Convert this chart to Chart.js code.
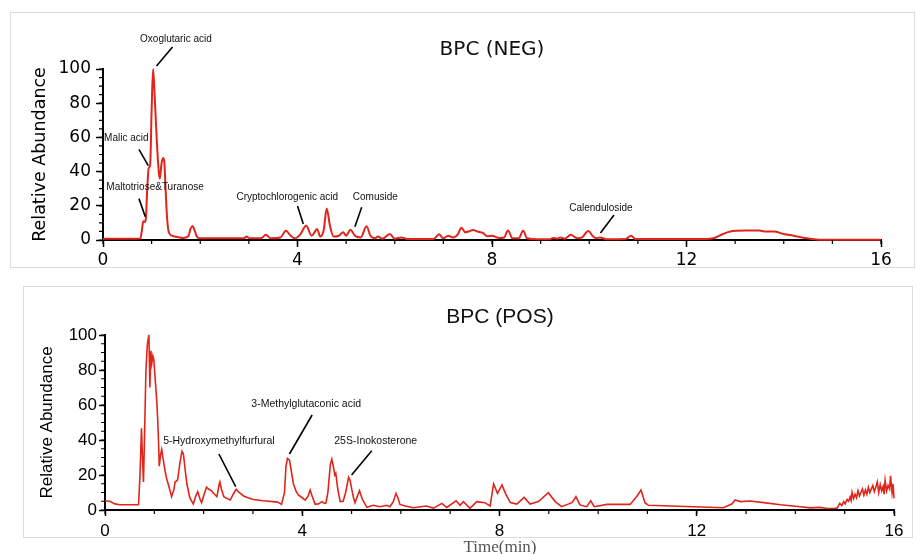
<!DOCTYPE html>
<html>
<head>
<meta charset="utf-8">
<script src="https://cdn.jsdelivr.net/npm/chart.js@4/dist/chart.umd.min.js"></script>
<style>
  body { margin: 0; background: #fff; width: 917px; height: 554px; position: relative; overflow: hidden; }
  .frame { position: absolute; border: 1px solid #dcdcdc; box-sizing: border-box; }
  canvas { position: absolute; }
  #timeLabel { position: absolute; left: 440px; top: 537px; width: 120px; line-height: 20px; text-align: center;
    font-family: 'Liberation Serif', 'DejaVu Serif', serif; font-size: 17px; color: #555; }
</style>
</head>
<body>
<div class="frame" style="left:10px;top:12px;width:905px;height:256px"></div>
<div class="frame" style="left:23px;top:286px;width:890px;height:252px"></div>
<canvas id="negCanvas" style="left:10px;top:12px"></canvas>
<canvas id="posCanvas" style="left:23px;top:286px"></canvas>
<div id="timeLabel">Time(min)</div>
<script>
// tick labels
const xTicks = [0, 4, 8, 12, 16];
const yTicks = [0, 20, 40, 60, 80, 100];

// BPC (NEG) - retention time (min) / relative abundance
const negTime = [0, 0.5, 0.77, 0.81, 0.83, 0.86, 0.88, 0.91, 0.94, 0.97, 1.0, 1.03, 1.06, 1.11, 1.15, 1.17, 1.2, 1.235, 1.26, 1.29,
  1.32, 1.36, 1.45, 1.55, 1.65, 1.75, 1.8, 1.84, 1.88, 1.93, 2.0, 2.5, 2.9, 2.95, 3.02, 3.25, 3.35, 3.45, 3.65, 3.76,
  3.86, 3.95, 4.05, 4.18, 4.29, 4.34, 4.4, 4.47, 4.54, 4.6, 4.67, 4.74, 4.85, 4.94, 5.0, 5.09, 5.18, 5.3, 5.42, 5.5,
  5.6, 5.65, 5.75, 5.9, 6.0, 6.14, 6.25, 6.8, 6.91, 7.0, 7.1, 7.2, 7.3, 7.37, 7.45, 7.52, 7.61, 7.7, 7.82, 7.9,
  8.0, 8.15, 8.25, 8.33, 8.42, 8.55, 8.64, 8.72, 8.9, 9.2, 9.25, 9.35, 9.4, 9.5, 9.62, 9.75, 9.85, 9.98, 10.08, 10.15,
  10.22, 10.35, 10.75, 10.86, 10.95, 12.4, 12.55, 12.75, 12.9, 13.2, 13.5, 13.6, 13.8, 14.0, 14.2, 14.47, 14.68, 15.0, 16.0];
const negAbundance = [0.8, 0.8, 0.9, 8, 11, 10.5, 12, 30, 42, 44, 76, 100, 86, 56, 39, 36, 44, 48, 46, 28,
  12, 4, 2.2, 1.6, 1.2, 2, 6.5, 8.2, 6, 2, 1, 1, 1, 2, 1, 1, 3, 1, 1.5, 5.4,
  2.5, 1, 3, 8.3, 2.5, 4, 6.5, 2, 6, 18.4, 8, 2, 2.5, 4.5, 2.5, 6, 2.5, 1.5, 8, 2.5,
  1, 2, 0.8, 3.5, 0.8, 1.5, 0.6, 0.6, 3.3, 1, 2.5, 1.5, 3.5, 7.2, 4.5, 5, 5.8, 5, 4, 2.2,
  2.5, 1.2, 1.5, 5.6, 1, 1, 5.4, 1, 0.5, 0.5, 1.2, 0.8, 1.5, 0.8, 3, 1, 1.5, 5.2, 2, 1,
  1.5, 0.5, 0.6, 2.5, 0.6, 0.6, 1, 3.5, 5, 5.5, 5.5, 5, 5, 3.5, 2.5, 1, 0.3, 0.1, 0.1];

// BPC (POS)
const posTime = [0, 0.1, 0.2, 0.3, 0.68, 0.71, 0.74, 0.76, 0.78, 0.8, 0.83, 0.86, 0.89, 0.91, 0.93, 0.95, 0.97, 0.99, 1.02, 1.05,
  1.07, 1.09, 1.1, 1.13, 1.15, 1.18, 1.22, 1.25, 1.3, 1.35, 1.4, 1.42, 1.47, 1.52, 1.56, 1.59, 1.63, 1.66, 1.72, 1.79,
  1.84, 1.88, 1.93, 1.96, 2.01, 2.06, 2.1, 2.16, 2.22, 2.27, 2.31, 2.33, 2.36, 2.41, 2.48, 2.54, 2.6, 2.66, 2.72, 2.81,
  2.9, 3.01, 3.2, 3.41, 3.5, 3.58, 3.64, 3.67, 3.7, 3.74, 3.78, 3.82, 3.87, 3.92, 4.0, 4.06, 4.12, 4.16, 4.2, 4.26,
  4.33, 4.4, 4.45, 4.48, 4.52, 4.57, 4.6, 4.63, 4.66, 4.68, 4.72, 4.77, 4.83, 4.88, 4.94, 4.97, 5.0, 5.04, 5.07, 5.12,
  5.16, 5.22, 5.31, 5.44, 5.58, 5.71, 5.78, 5.85, 5.9, 5.94, 5.98, 6.09, 6.25, 6.52, 6.66, 6.83, 6.93, 7.12, 7.2, 7.27,
  7.4, 7.54, 7.7, 7.81, 7.88, 7.96, 8.05, 8.12, 8.22, 8.35, 8.5, 8.62, 8.79, 8.99, 9.13, 9.26, 9.47, 9.55, 9.63, 9.77,
  9.85, 9.92, 10.18, 10.65, 10.79, 10.87, 10.95, 11.02, 11.93, 12.54, 12.71, 12.78, 12.88, 13.08, 13.36, 13.7, 14.1, 14.3, 14.5, 14.65,
  14.8, 14.85, 14.9, 14.94, 14.98, 15.01, 15.05, 15.08, 15.11, 15.13, 15.15, 15.18, 15.21, 15.24, 15.27, 15.3, 15.33, 15.36, 15.39, 15.42,
  15.45, 15.48, 15.51, 15.54, 15.57, 15.6, 15.63, 15.66, 15.69, 15.72, 15.75, 15.78, 15.8, 15.82, 15.85, 15.88, 15.91, 15.93, 15.96, 15.98, 16.0];
const posAbundance = [5.3, 5, 3.5, 3, 3, 20, 46.7, 30, 16, 40, 80, 95, 100, 70, 91, 84, 88, 86, 74, 62,
  51, 35, 25, 32, 34.5, 29, 22, 18, 13, 7.6, 12, 16, 17, 27, 33.5, 32, 22, 15, 7, 3.4,
  8, 10.5, 6, 4.2, 9, 13, 12, 11, 9, 7.6, 14, 16, 12, 7.6, 6.5, 5.7, 9, 11.8, 10, 8,
  7, 6, 5.3, 4.8, 4.5, 3.2, 10, 25, 29.5, 28.6, 22, 15, 11, 8.6, 7, 5.7, 8, 11.4, 8, 3.4,
  3.5, 4.8, 3.8, 4, 10, 26, 29, 25, 20, 21, 12, 4.8, 5, 10, 18.7, 17, 12.4, 7, 4.2, 8,
  11, 6, 1.5, 2.7, 1.9, 2.7, 1.9, 5, 9.5, 7, 3.2, 2.3, 1.3, 2.3, 1.1, 3.8, 1.5, 5.3, 2.7, 4.8,
  1, 4.8, 4.2, 2.3, 14.9, 9.5, 14.3, 9.5, 4.2, 3.4, 7.2, 3.4, 4.8, 9.9, 4.8, 1.9, 4.2, 7.6, 2.9, 1.9,
  5.3, 1.9, 3.2, 3.2, 8, 11.4, 4.2, 2.7, 1.9, 1.3, 3.4, 5.7, 4.8, 5.1, 4.2, 3, 1.9, 1.2, 1.5, 0.9,
  1, 1.2, 3.8, 2.5, 4.8, 3.5, 6, 5, 7.5, 5.5, 10, 6.5, 9, 7, 11, 8, 10, 12, 8.5, 11.5,
  9, 13, 10, 12, 14, 10.5, 13, 16, 10, 14.5, 11, 13.5, 9, 17, 11, 14, 12, 19.5, 10, 15, 6.7];

// peak labels: text, label position and leader line (data units)
const negNotes = [
  { text: 'Oxoglutaric acid', at: [1.5, 117.5], from: [1.43, 112.9], to: [1.1, 101.8] },
  { text: 'Malic acid', at: [0.48, 59.6], from: [0.74, 53], to: [0.93, 43.5] },
  { text: 'Maltotriose&Turanose', at: [1.07, 31], from: [0.74, 24.2], to: [0.87, 13.6] },
  { text: 'Cryptochlorogenic acid', at: [3.79, 25.1], from: [4.0, 19.9], to: [4.12, 9.4] },
  { text: 'Comuside', at: [5.6, 25.1], from: [5.32, 19.1], to: [5.18, 7.8] },
  { text: 'Calenduloside', at: [10.24, 18.7], from: [10.51, 14.6], to: [10.23, 4.1] }
];
const posNotes = [
  { text: '5-Hydroxymethylfurfural', at: [2.31, 39.4], from: [2.31, 32], to: [2.65, 13.3] },
  { text: '3-Methylglutaconic acid', at: [4.08, 60.6], from: [4.2, 54.3], to: [3.74, 32] },
  { text: '25S-Inokosterone', at: [5.49, 39.4], from: [5.41, 33.9], to: [5.0, 20] }
];

const notesPlugin = {
  id: 'panelNotes',
  afterDraw(chart, args, opts) {
    const ctx = chart.ctx;
    const xs = chart.scales.x, ys = chart.scales.y;
    const area = chart.chartArea;
    ctx.save();
    // minor ticks
    ctx.strokeStyle = '#000';
    ctx.lineWidth = 1.2;
    ctx.beginPath();
    for (let v = xs.min; v <= xs.max; v += 1) {
      const px = xs.getPixelForValue(v);
      ctx.moveTo(px, area.bottom);
      ctx.lineTo(px, area.bottom + opts.minorLen);
    }
    for (let v = ys.min; v <= ys.max; v += 5) {
      const py = ys.getPixelForValue(v);
      ctx.moveTo(area.left, py);
      ctx.lineTo(area.left - opts.minorLen, py);
    }
    ctx.stroke();
    // panel title
    ctx.fillStyle = '#111';
    ctx.font = opts.titleFont;
    ctx.textAlign = 'center';
    ctx.textBaseline = 'middle';
    ctx.fillText(opts.title, opts.titleX, opts.titleY);
    // peak labels
    ctx.font = opts.noteFont;
    ctx.lineWidth = 1.6;
    opts.notes.forEach(n => {
      ctx.fillText(n.text, xs.getPixelForValue(n.at[0]), ys.getPixelForValue(n.at[1]));
      ctx.beginPath();
      ctx.moveTo(xs.getPixelForValue(n.from[0]), ys.getPixelForValue(n.from[1]));
      ctx.lineTo(xs.getPixelForValue(n.to[0]), ys.getPixelForValue(n.to[1]));
      ctx.stroke();
    });
    ctx.restore();
  }
};

function buildChart(id, cfg) {
  const canvas = document.getElementById(id);
  canvas.width = cfg.width;
  canvas.height = cfg.height;
  const tickFont = { family: cfg.family, size: cfg.tickSize };
  return new Chart(canvas.getContext('2d'), {
    type: 'line',
    data: {
      datasets: [{
        data: cfg.time.map((t, i) => ({ x: t, y: cfg.values[i] })),
        borderColor: '#e0251b',
        borderWidth: cfg.lineWidth,
        pointRadius: 0,
        fill: false,
        clip: 6,
        cubicInterpolationMode: cfg.smooth ? 'monotone' : 'default'
      }]
    },
    options: {
      responsive: false,
      animation: false,
      events: [],
      layout: { padding: { top: cfg.padTop, right: cfg.padRight, bottom: cfg.padBottom, left: 0 } },
      plugins: {
        legend: { display: false },
        tooltip: { enabled: false },
        panelNotes: {
          title: cfg.title, titleX: cfg.titleX, titleY: cfg.titleY,
          titleFont: cfg.titleFont, noteFont: cfg.noteFont,
          notes: cfg.notes, minorLen: cfg.minorLen
        }
      },
      scales: {
        x: {
          type: 'linear', min: 0, max: 16,
          afterBuildTicks: s => { s.ticks = xTicks.map(v => ({ value: v })); },
          afterFit: s => { s.height = 28; },
          ticks: { font: tickFont, color: '#000', padding: cfg.xPad, maxRotation: 0, autoSkip: false },
          grid: { display: true, drawOnChartArea: false, tickLength: cfg.tickLen, tickColor: '#000', tickWidth: 1.5 },
          border: { display: true, color: '#000', width: 2 }
        },
        y: {
          min: 0, max: 100,
          afterBuildTicks: s => { s.ticks = yTicks.map(v => ({ value: v })); },
          afterFit: s => { s.width = cfg.yWidth; },
          ticks: { font: tickFont, color: '#000', padding: cfg.yPad },
          grid: { display: true, drawOnChartArea: false, tickLength: cfg.tickLen, tickColor: '#000', tickWidth: 1.5 },
          border: { display: true, color: '#000', width: 2 },
          title: {
            display: true, text: 'Relative Abundance', color: '#000',
            font: { family: cfg.family, size: cfg.axisTitleSize },
            padding: { top: cfg.axisTitlePad, bottom: 0 }
          }
        }
      }
    },
    plugins: [notesPlugin]
  });
}

buildChart('negCanvas', {
  width: 905, height: 262, padTop: 57, padRight: 34, padBottom: 6, yWidth: 93,
  time: negTime, values: negAbundance, smooth: true, lineWidth: 2,
  family: "'DejaVu Sans', sans-serif", tickSize: 17, axisTitleSize: 17.5, axisTitlePad: 20,
  tickLen: 7, minorLen: 4, xPad: 3, yPad: 5,
  title: 'BPC (NEG)', titleX: 482, titleY: 38, titleFont: "20px 'DejaVu Sans', sans-serif",
  noteFont: "10px 'Liberation Sans', Arial, sans-serif", notes: negNotes
});

buildChart('posCanvas', {
  width: 890, height: 262, padTop: 49, padRight: 19, padBottom: 10, yWidth: 82,
  time: posTime, values: posAbundance, smooth: false, lineWidth: 1.6,
  family: "'Liberation Sans', Arial, sans-serif", tickSize: 17, axisTitleSize: 17, axisTitlePad: 14,
  tickLen: 6, minorLen: 4, xPad: 5, yPad: 2,
  title: 'BPC (POS)', titleX: 477, titleY: 31, titleFont: "21px 'Liberation Sans', Arial, sans-serif",
  noteFont: "10.5px 'Liberation Sans', Arial, sans-serif", notes: posNotes
});
</script>
</body>
</html>
